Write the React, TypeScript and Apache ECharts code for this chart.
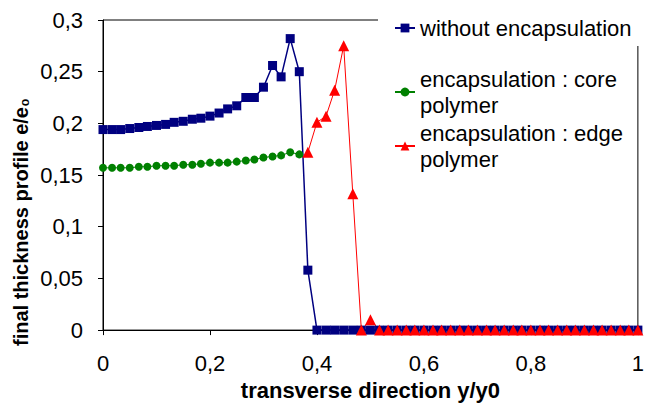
import React, { useEffect, useRef } from "react";
import * as echarts from "echarts";

// transverse direction y/y0 (sampling positions)
const xValues = [
  0, 0.017, 0.033, 0.05, 0.067, 0.083, 0.1, 0.117, 0.133, 0.15, 0.167, 0.183, 0.2,
  0.217, 0.233, 0.25, 0.267, 0.283, 0.3, 0.317, 0.333, 0.35, 0.367, 0.383, 0.4,
  0.417, 0.433, 0.45, 0.467, 0.483, 0.5, 0.517, 0.533, 0.55, 0.567, 0.583, 0.6,
  0.617, 0.633, 0.65, 0.667, 0.683, 0.7, 0.717, 0.733, 0.75, 0.767, 0.783, 0.8,
  0.817, 0.833, 0.85, 0.867, 0.883, 0.9, 0.917, 0.933, 0.95, 0.967, 0.983, 1,
];

// final thickness profile, without encapsulation (starts at xValues[0])
const withoutEncapsulation = [
  0.194, 0.194, 0.194, 0.195, 0.196, 0.197, 0.198, 0.199, 0.201, 0.202, 0.204, 0.205,
  0.207, 0.21, 0.214, 0.217, 0.225, 0.225, 0.235, 0.256, 0.245, 0.282, 0.25, 0.058,
  0, 0, 0, 0, 0, 0, 0, 0, 0, 0, 0, 0, 0, 0, 0, 0, 0, 0, 0, 0, 0, 0, 0, 0, 0, 0, 0, 0,
  0, 0, 0, 0, 0, 0, 0, 0, 0,
];

// encapsulation : core polymer (starts at xValues[0])
const corePolymer = [
  0.157, 0.157, 0.157, 0.157, 0.158, 0.158, 0.159, 0.159, 0.159, 0.16, 0.16, 0.161,
  0.162, 0.162, 0.162, 0.163, 0.164, 0.165, 0.167, 0.168, 0.169, 0.172, 0.17,
];

// encapsulation : edge polymer (starts at xValues[edgeStartIndex])
const edgeStartIndex = 23;
const edgePolymer = [
  0.172, 0.201, 0.207, 0.232, 0.275, 0.132, 0, 0.01,
  0, 0, 0, 0, 0, 0, 0, 0, 0, 0, 0, 0, 0, 0, 0, 0, 0, 0, 0, 0, 0, 0, 0, 0, 0, 0, 0, 0, 0, 0,
];

const seriesNames = [
  "without encapsulation",
  "encapsulation : core polymer",
  "encapsulation : edge polymer",
];

const xAxisTitle = "transverse direction y/y0";
const yAxisTitle = "final thickness profile e/e₀";

const FONT = "'Liberation Sans', Arial, sans-serif";

const fmt = (v: number) => (v === 0 ? "0" : String(+v.toFixed(2)).replace(".", ","));

export default function App() {
  const ref = useRef<HTMLDivElement>(null);

  useEffect(() => {
    if (!ref.current) return;
    const chart = echarts.init(ref.current, null, { renderer: "svg" });

    const legendText = { fontSize: 22, lineHeight: 26, color: "#000", fontFamily: FONT };
    const legendBase = {
      orient: "vertical",
      itemWidth: 20,
      itemHeight: 11,
      itemGap: 0,
      selectedMode: false,
    };

    chart.setOption({
      animation: false,
      backgroundColor: "#fff",
      grid: {
        left: 103,
        right: 3,
        top: 20,
        bottom: 74,
        show: true,
        borderColor: "#000",
        borderWidth: 1,
        backgroundColor: "transparent",
      },
      graphic: [
        {
          type: "text",
          x: 21,
          y: 222,
          rotation: Math.PI / 2,
          style: {
            text: yAxisTitle,
            font: `bold 20px ${FONT}`,
            fill: "#000",
            align: "center",
            verticalAlign: "middle",
          },
        },
      ],
      legend: [
        {
          ...legendBase,
          data: [seriesNames[0]],
          left: 378,
          top: 10,
          padding: [5, 8, 5, 16],
          backgroundColor: "#fff",
          textStyle: legendText,
        },
        {
          ...legendBase,
          data: [seriesNames[1]],
          left: 394,
          top: 53,
          padding: 0,
          formatter: (n: string) => n.replace(" polymer", "\npolymer"),
          textStyle: { ...legendText, padding: [26, 0, 0, 0] },
        },
        {
          ...legendBase,
          data: [seriesNames[2]],
          left: 394,
          top: 107,
          padding: 0,
          formatter: (n: string) => n.replace(" polymer", "\npolymer"),
          textStyle: { ...legendText, padding: [26, 0, 0, 0] },
        },
      ],
      xAxis: {
        type: "value",
        min: 0,
        max: 1,
        interval: 0.2,
        name: xAxisTitle,
        nameLocation: "middle",
        nameGap: 46,
        nameTextStyle: { fontSize: 22, fontWeight: "bold", color: "#000", fontFamily: FONT },
        axisLine: { lineStyle: { color: "#000", width: 1 } },
        axisTick: { show: true, inside: false, length: 5, lineStyle: { color: "#000" } },
        axisLabel: { formatter: fmt, fontSize: 22, color: "#000", margin: 22, fontFamily: FONT },
        splitLine: { show: false },
      },
      yAxis: {
        type: "value",
        min: 0,
        max: 0.3,
        interval: 0.05,
        axisLine: { show: true, lineStyle: { color: "#000", width: 1 } },
        axisTick: { show: true, inside: false, length: 5, lineStyle: { color: "#000" } },
        axisLabel: { formatter: fmt, fontSize: 22, color: "#000", margin: 20, fontFamily: FONT },
        splitLine: { show: false },
      },
      series: [
        {
          name: seriesNames[0],
          type: "line",
          data: withoutEncapsulation.map((v, i) => [xValues[i], v]),
          symbol: "rect",
          symbolSize: 9,
          itemStyle: { color: "#000080" },
          lineStyle: { color: "#000080", width: 1.5 },
        },
        {
          name: seriesNames[1],
          type: "line",
          data: corePolymer.map((v, i) => [xValues[i], v]),
          symbol: "circle",
          symbolSize: 8,
          itemStyle: { color: "#008000" },
          lineStyle: { color: "#008000", width: 1 },
        },
        {
          name: seriesNames[2],
          type: "line",
          data: edgePolymer.map((v, i) => [xValues[i + edgeStartIndex], v]),
          symbol: "triangle",
          symbolSize: 11,
          itemStyle: { color: "#ff0000" },
          lineStyle: { color: "#ff0000", width: 1 },
        },
      ],
    });

    return () => chart.dispose();
  }, []);

  return (
    <div
      ref={ref}
      style={{ position: "absolute", left: 0, top: 0, width: 647, height: 406 }}
    />
  );
}
